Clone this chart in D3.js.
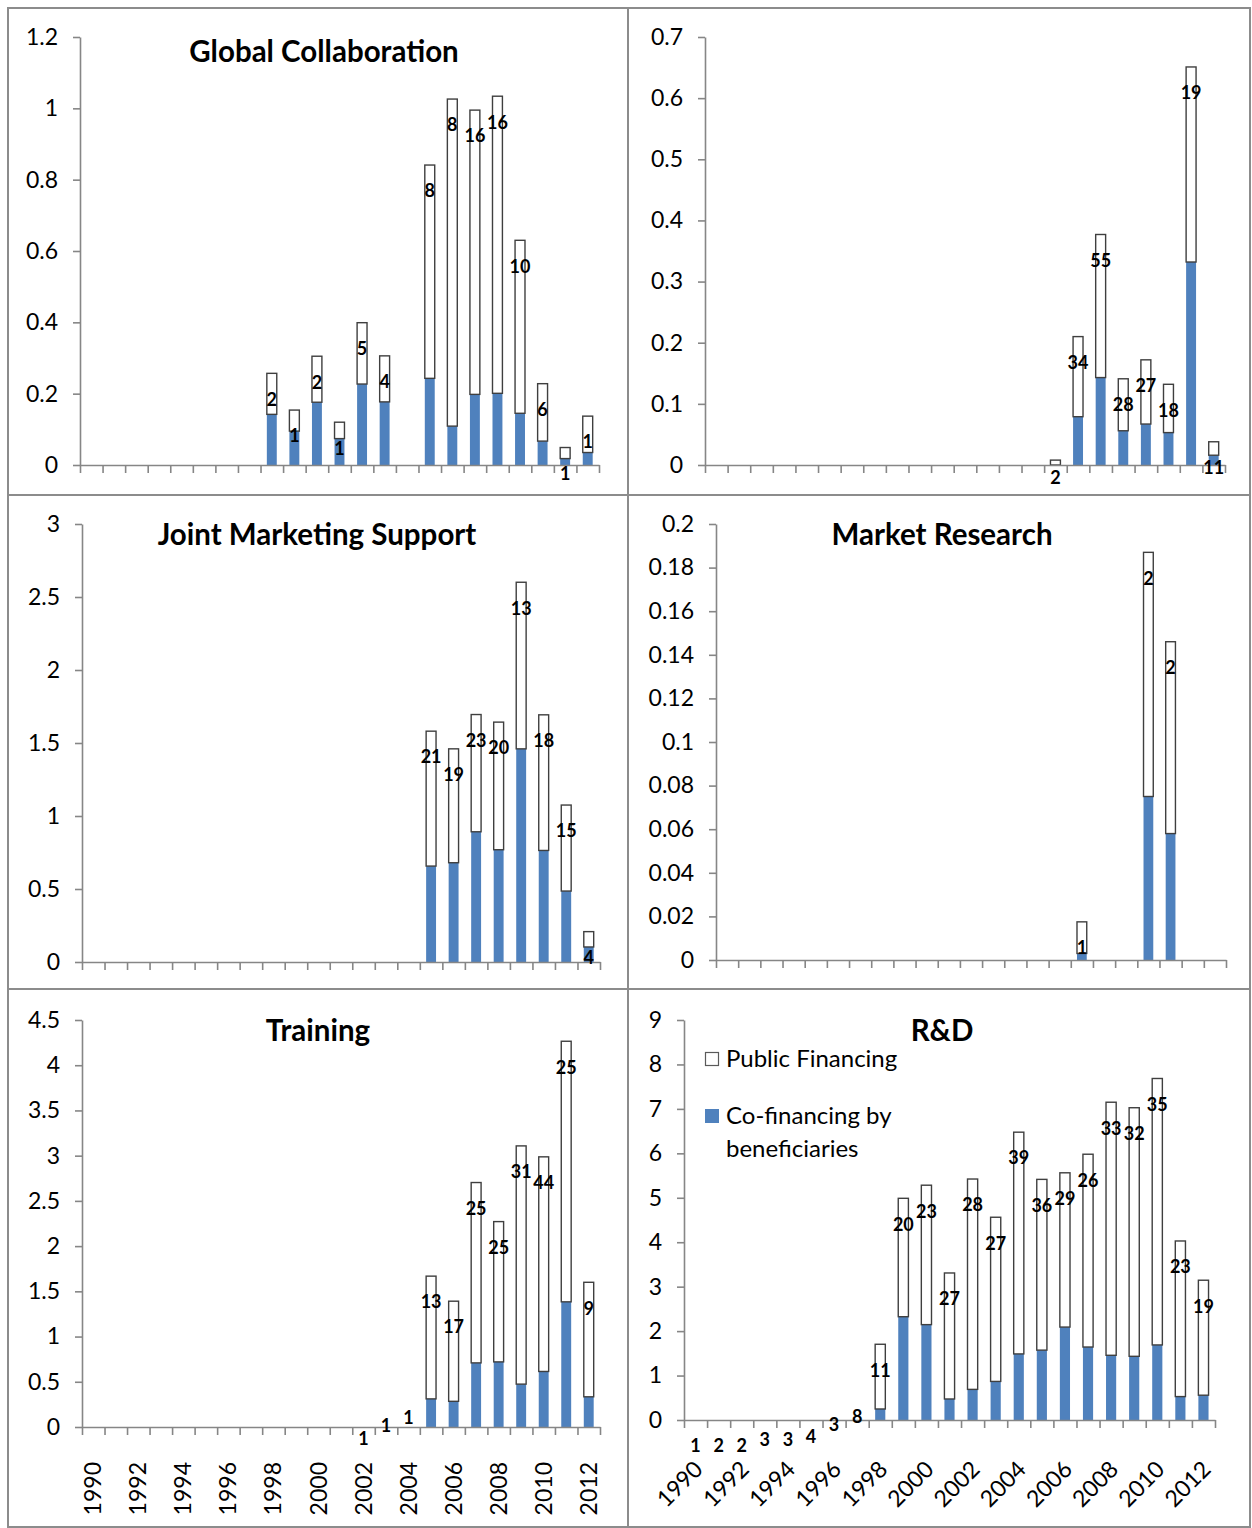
<!DOCTYPE html>
<html>
<head>
<meta charset="utf-8">
<script src="https://cdn.jsdelivr.net/npm/d3@7"></script>
<style>
  html, body { margin: 0; padding: 0; background: #fff; }
  svg { display: block; font-family: Lato, "Open Sans", sans-serif; }
</style>
</head>
<body>
<svg id="chart" width="1252" height="1528"></svg>
<script>
// Years on the category axis
const years = [1990, 1991, 1992, 1993, 1994, 1995, 1996, 1997, 1998, 1999, 2000, 2001,
               2002, 2003, 2004, 2005, 2006, 2007, 2008, 2009, 2010, 2011, 2012];
const yearLabels = ["1990", "1992", "1994", "1996", "1998", "2000",
                    "2002", "2004", "2006", "2008", "2010", "2012"];

// Global Collaboration
const globalCofin    = [0,0,0,0,0,0,0,0, 0.142,0.095,0.176,0.074,0.227,0.177,0, 0.243,0.109,0.198,0.201,0.145,0.067,0.018,0.035];
const globalPublic   = [0,0,0,0,0,0,0,0, 0.115,0.059,0.129,0.046,0.172,0.129,0, 0.598,0.917,0.797,0.833,0.485,0.161,0.031,0.102];
const globalProjects = [null,null,null,null,null,null,null,null, 2,1,2,1,5,4,null, 8,8,16,16,10,6,1,1];
const globalTicks    = [0, 0.2, 0.4, 0.6, 0.8, 1, 1.2];

// Untitled programme (top right)
const otherCofin    = [0,0,0,0,0,0,0,0,0,0,0,0,0,0,0, 0,0.079,0.143,0.056,0.067,0.053,0.332,0.016];
const otherPublic   = [0,0,0,0,0,0,0,0,0,0,0,0,0,0,0, 0.008,0.131,0.234,0.085,0.105,0.079,0.319,0.022];
const otherProjects = [null,null,null,null,null,null,null,null,null,null,null,null,null,null,null, 2,34,55,28,27,18,19,11];
const otherTicks    = [0, 0.1, 0.2, 0.3, 0.4, 0.5, 0.6, 0.7];

// Joint Marketing Support
const jmsCofin    = [0,0,0,0,0,0,0,0,0,0,0,0,0,0,0, 0.657,0.680,0.892,0.769,1.460,0.764,0.486,0.103];
const jmsPublic   = [0,0,0,0,0,0,0,0,0,0,0,0,0,0,0, 0.924,0.780,0.803,0.874,1.141,0.929,0.589,0.105];
const jmsProjects = [null,null,null,null,null,null,null,null,null,null,null,null,null,null,null, 21,19,23,20,13,18,15,4];
const jmsTicks    = [0, 0.5, 1, 1.5, 2, 2.5, 3];

// Market Research
const mrCofin    = [0,0,0,0,0,0,0,0,0,0,0,0,0,0,0,0, 0.003,0,0, 0.075,0.058,0,0];
const mrPublic   = [0,0,0,0,0,0,0,0,0,0,0,0,0,0,0,0, 0.0145,0,0, 0.112,0.088,0,0];
const mrProjects = [null,null,null,null,null,null,null,null,null,null,null,null,null,null,null,null, 1,null,null, 2,2,null,null];
const mrTicks    = [0, 0.02, 0.04, 0.06, 0.08, 0.1, 0.12, 0.14, 0.16, 0.18, 0.2];

// Training
const trainCofin    = [0,0,0,0,0,0,0,0,0,0,0,0, 0,0,0, 0.311,0.284,0.709,0.720,0.474,0.614,1.384,0.334];
const trainPublic   = [0,0,0,0,0,0,0,0,0,0,0,0, 0,0,0, 1.357,1.107,1.994,1.551,2.634,2.373,2.881,1.266];
const trainProjects = [null,null,null,null,null,null,null,null,null,null,null,null, 1,1,1, 13,17,25,25,31,44,25,9];
const trainTicks    = [0, 0.5, 1, 1.5, 2, 2.5, 3, 3.5, 4, 4.5];

// R&D
const rdCofin    = [0,0,0,0,0,0,0,0, 0.248,2.324,2.146,0.473,0.689,0.868,1.487,1.572,2.091,1.642,1.456,1.433,1.689,0.527,0.558];
const rdPublic   = [0,0,0,0,0,0,0,0, 1.456,2.664,3.137,2.835,4.733,3.694,4.989,3.842,3.471,4.338,5.694,5.593,5.995,3.501,2.587];
const rdProjects = [1,2,2,3,3,4,3,8, 11,20,23,27,28,27,39,36,29,26,33,32,35,23,19];
const rdTicks    = [0, 1, 2, 3, 4, 5, 6, 7, 8, 9];

const legendLabels = ["Public Financing", "Co-financing by", "beneficiaries"];

// ---- styling ----
const BLUE = "#4F81BD";
const AXIS = "#868686";
const FRAME = "#8c8c8c";
const OUTLINE = "#3f3f3f";

// Panel layout: plot area, title, year-axis style, label lifts (px) for empty years
const panels = [
  { title: "Global Collaboration", titleX: 324, titleY: 62,
    cofin: globalCofin, pub: globalPublic, projects: globalProjects, ticks: globalTicks,
    x0: 80, x1: 599, y0: 465, yTop: 37, years: "none", lift: {} },
  { title: "", titleX: 942, titleY: 62,
    cofin: otherCofin, pub: otherPublic, projects: otherProjects, ticks: otherTicks,
    x0: 705, x1: 1225, y0: 465, yTop: 37, years: "none", lift: { 2005: 8 } },
  { title: "Joint Marketing Support", titleX: 317, titleY: 545,
    cofin: jmsCofin, pub: jmsPublic, projects: jmsProjects, ticks: jmsTicks,
    x0: 82, x1: 600, y0: 962, yTop: 524, years: "none", lift: {} },
  { title: "Market Research", titleX: 942, titleY: 545,
    cofin: mrCofin, pub: mrPublic, projects: mrProjects, ticks: mrTicks,
    x0: 716, x1: 1226, y0: 960, yTop: 524, years: "none", lift: {} },
  { title: "Training", titleX: 318, titleY: 1041,
    cofin: trainCofin, pub: trainPublic, projects: trainProjects, ticks: trainTicks,
    x0: 82, x1: 600, y0: 1427, yTop: 1020, years: "vertical", lift: { 2002: 14, 2003: 27, 2004: 35 } },
  { title: "R&D", titleX: 942, titleY: 1041,
    cofin: rdCofin, pub: rdPublic, projects: rdProjects, ticks: rdTicks,
    x0: 684, x1: 1215, y0: 1420, yTop: 1020, years: "diagonal", legend: true,
    lift: { 1993: 6, 1994: 6, 1995: 9, 1996: 21, 1997: 29 } }
];

const svg = d3.select("#chart");

// Frame lines around and between the six panels
const frame = svg.append("g").attr("stroke", FRAME).attr("stroke-width", 2).attr("fill", "none");
frame.append("rect").attr("x", 8).attr("y", 8).attr("width", 1242).attr("height", 1519);
frame.append("line").attr("x1", 628).attr("x2", 628).attr("y1", 8).attr("y2", 1528);
frame.append("line").attr("x1", 8).attr("x2", 1250).attr("y1", 495).attr("y2", 495);
frame.append("line").attr("x1", 8).attr("x2", 1250).attr("y1", 989).attr("y2", 989);

panels.forEach(p => {
  const g = svg.append("g");
  const yMax = p.ticks[p.ticks.length - 1];
  const y = d3.scaleLinear().domain([0, yMax]).range([p.y0, p.yTop]);
  const x = d3.scaleBand().domain(years).range([p.x0, p.x1]).paddingInner(0.56).paddingOuter(0.28);
  const edges = d3.scaleLinear().domain([0, years.length]).range([p.x0, p.x1]);

  const rows = years.map((yr, i) => ({ yr, c: p.cofin[i], u: p.pub[i], n: p.projects[i] }));

  // co-financing (bottom of the stack)
  g.selectAll("rect.cofin").data(rows.filter(d => d.c > 0)).join("rect")
    .attr("class", "cofin")
    .attr("x", d => x(d.yr)).attr("width", x.bandwidth())
    .attr("y", d => y(d.c)).attr("height", d => y(0) - y(d.c))
    .attr("fill", BLUE);

  // public financing (stacked on top)
  g.selectAll("rect.pub").data(rows.filter(d => d.u > 0)).join("rect")
    .attr("class", "pub")
    .attr("x", d => x(d.yr)).attr("width", x.bandwidth())
    .attr("y", d => y(d.c + d.u)).attr("height", d => y(d.c) - y(d.c + d.u))
    .attr("fill", "#fff").attr("stroke", OUTLINE).attr("stroke-width", 1.4);

  // y axis
  const ya = g.append("g").attr("transform", `translate(${p.x0},0)`)
    .call(d3.axisLeft(y).tickValues(p.ticks).tickFormat(d => String(d))
      .tickSize(7).tickSizeOuter(0).tickPadding(15));
  ya.select(".domain").attr("stroke", AXIS).attr("stroke-width", 1.6);
  ya.selectAll(".tick line").attr("stroke", AXIS).attr("stroke-width", 1.6);
  ya.selectAll(".tick text").attr("font-size", 23).attr("fill", "#000")
    .attr("font-family", "Lato, sans-serif");

  // x axis: boundary ticks between years
  const xa = g.append("g").attr("transform", `translate(0,${p.y0})`)
    .call(d3.axisBottom(edges).tickValues(d3.range(years.length + 1))
      .tickFormat("").tickSize(8).tickSizeOuter(0));
  xa.select(".domain").attr("stroke", AXIS).attr("stroke-width", 1.6);
  xa.selectAll(".tick line").attr("stroke", AXIS).attr("stroke-width", 1.6);

  // year labels (bottom row only)
  if (p.years !== "none") {
    const yl = g.append("g").attr("font-size", 23).attr("fill", "#000");
    yl.selectAll("text").data(yearLabels).join("text")
      .attr("text-anchor", "end")
      .attr("dy", "0.35em")
      .attr("transform", d => {
        const cx = x(+d) + x.bandwidth() / 2;
        return p.years === "vertical"
          ? `translate(${cx},${p.y0 + 35}) rotate(-90)`
          : `translate(${cx + 3},${p.y0 + 45}) rotate(-45)`;
      })
      .text(d => d);
  }

  // number-of-projects labels, just below the top of each stack
  g.selectAll("text.count").data(rows.filter(d => d.n != null)).join("text")
    .attr("class", "count")
    .attr("x", d => x(d.yr) + x.bandwidth() / 2)
    .attr("y", d => y(d.c + d.u) + 26 - (p.lift[d.yr] || 0))
    .attr("dy", "0.35em")
    .attr("text-anchor", "middle")
    .attr("font-size", 18).attr("font-weight", 700).attr("fill", "#000")
    .text(d => d.n);

  // title
  if (p.title) {
    g.append("text").attr("x", p.titleX).attr("y", p.titleY)
      .attr("text-anchor", "middle").attr("font-size", 29.5).attr("font-weight", 700)
      .attr("fill", "#000").text(p.title);
  }

  // legend
  if (p.legend) {
    const lg = g.append("g").attr("font-size", 24).attr("fill", "#000");
    lg.append("rect").attr("x", 705.5).attr("y", 1052.5).attr("width", 13).attr("height", 13)
      .attr("fill", "#fff").attr("stroke", "#5a5a5a").attr("stroke-width", 1.2);
    lg.append("text").attr("x", 726).attr("y", 1059).attr("dy", "0.35em").text(legendLabels[0]);
    lg.append("rect").attr("x", 705).attr("y", 1109).attr("width", 14).attr("height", 14)
      .attr("fill", BLUE);
    lg.append("text").attr("x", 726).attr("y", 1116).attr("dy", "0.35em").text(legendLabels[1]);
    lg.append("text").attr("x", 726).attr("y", 1149).attr("dy", "0.35em").text(legendLabels[2]);
  }
});
</script>
</body>
</html>
